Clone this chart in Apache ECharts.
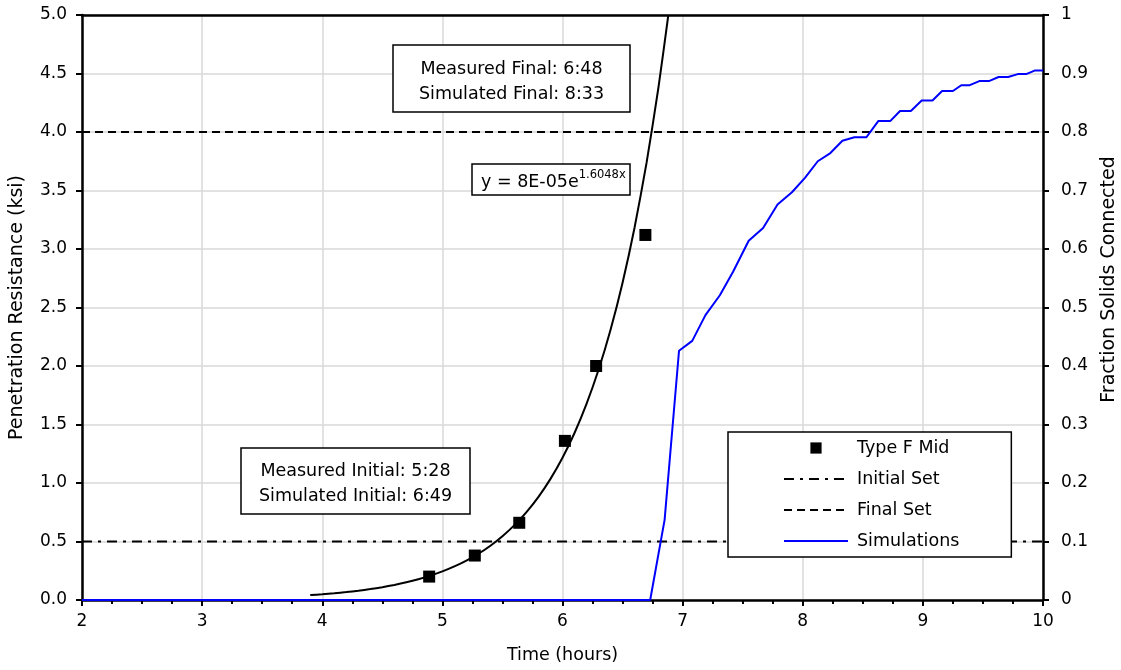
<!DOCTYPE html>
<html><head><meta charset="utf-8">
<script src="https://cdn.jsdelivr.net/npm/echarts@6/dist/echarts.min.js"></script>
<style>html,body{margin:0;padding:0;background:#fff}#c{width:1121px;height:670px}</style>
</head><body><div id="c"></div>
<script>
// ---- data ----
const typeFMidTime = [4.89, 5.27, 5.64, 6.02, 6.28, 6.69];
const typeFMidResistance = [0.20, 0.38, 0.66, 1.36, 2.00, 3.12];

const trendTime = [3.9, 4.0, 4.1, 4.2, 4.3, 4.4, 4.5, 4.6, 4.7, 4.8, 4.9, 5.0, 5.1, 5.2, 5.3, 5.4, 5.5, 5.6, 5.7, 5.8, 5.9, 6.0, 6.1, 6.2, 6.3, 6.4, 6.5, 6.6, 6.7, 6.8, 6.881];
const trendResistance = [0.0418, 0.0491, 0.0576, 0.0676, 0.0794, 0.0933, 0.1095, 0.1286, 0.1509, 0.1772, 0.2080, 0.2443, 0.2868, 0.3367, 0.3953, 0.4642, 0.5450, 0.6398, 0.7512, 0.8819, 1.0354, 1.2157, 1.4273, 1.6758, 1.9675, 2.3100, 2.7121, 3.1840, 3.7382, 4.3891, 5.0];

const simTime = [2, 6.73, 6.85, 6.97, 7.08, 7.19, 7.31, 7.42, 7.55, 7.67, 7.79, 7.91, 8.02, 8.125, 8.23, 8.33, 8.43, 8.53, 8.63, 8.73, 8.81, 8.90, 8.99, 9.08, 9.16, 9.25, 9.32, 9.39, 9.47, 9.55, 9.63, 9.71, 9.79, 9.86, 9.93, 10];
const simFraction = [0, 0, 0.137, 0.426, 0.443, 0.487, 0.521, 0.561, 0.614, 0.636, 0.676, 0.697, 0.722, 0.750, 0.764, 0.785, 0.791, 0.791, 0.819, 0.819, 0.836, 0.836, 0.854, 0.854, 0.870, 0.870, 0.880, 0.880, 0.887, 0.887, 0.894, 0.894, 0.899, 0.899, 0.905, 0.905];

const initialSetLevel = 0.5;
const finalSetLevel = 4.0;
const timeRange = [2, 10];
const legendNames = ['Type F Mid', 'Initial Set', 'Final Set', 'Simulations'];
const finalNote = ['Measured Final: 6:48', 'Simulated Final: 8:33'];
const initialNote = ['Measured Initial: 5:28', 'Simulated Initial: 6:49'];
const equationMain = 'y = 8E-05e';
const equationExp = '1.6048x';

// ---- chart ----
const FONT = 'DejaVu Sans';
const zip = (a, b) => a.map((v, i) => [v, b[i]]);
const chart = echarts.init(document.getElementById('c'), null, {renderer: 'canvas'});

const option = {
  animation: false,
  backgroundColor: '#fff',
  textStyle: {fontFamily: FONT, color: '#000'},
  grid: {left: 82, right: 78, top: 15, bottom: 70, containLabel: false, outerBoundsMode: 'none', show: false},
  xAxis: [{
    type: 'value', min: timeRange[0], max: timeRange[1], interval: 1, position: 'bottom',
    name: 'Time (hours)', nameLocation: 'middle', nameGap: 46,
    nameTextStyle: {fontFamily: FONT, fontSize: 17.5, color: '#000'},
    axisLine: {show: true, onZero: false, lineStyle: {color: '#000', width: 2.5}},
    axisTick: {show: true, inside: false, length: 6, lineStyle: {color: '#000', width: 2}},
    minorTick: {show: true, splitNumber: 4, length: 4, lineStyle: {color: '#000', width: 2}},
    axisLabel: {fontFamily: FONT, fontSize: 17, color: '#000', margin: 13},
    splitLine: {show: true, lineStyle: {color: '#d9d9d9', width: 1.5}}
  }, {
    type: 'value', min: timeRange[0], max: timeRange[1], interval: 1, position: 'top',
    axisLine: {show: true, onZero: false, lineStyle: {color: '#000', width: 2.5}},
    axisTick: {show: false}, axisLabel: {show: false}, splitLine: {show: false}
  }],
  yAxis: [{
    type: 'value', min: 0, max: 5, interval: 0.5, position: 'left',
    name: 'Penetration Resistance (ksi)', nameLocation: 'middle', nameGap: 55,
    nameTextStyle: {fontFamily: FONT, fontSize: 19, color: '#000'},
    axisLine: {show: true, onZero: false, lineStyle: {color: '#000', width: 2.5}},
    axisTick: {show: true, inside: false, length: 6, lineStyle: {color: '#000', width: 2}},
    axisLabel: {fontFamily: FONT, fontSize: 17, color: '#000', margin: 15, formatter: v => v.toFixed(1)},
    splitLine: {show: true, lineStyle: {color: '#d9d9d9', width: 1.5}}
  }, {
    type: 'value', min: 0, max: 1, interval: 0.1, position: 'right',
    name: 'Fraction Solids Connected', nameLocation: 'middle', nameGap: 57,
    nameTextStyle: {fontFamily: FONT, fontSize: 19, color: '#000', padding: [0, 0, 0, 56]},
    axisLine: {show: true, onZero: false, lineStyle: {color: '#000', width: 2.5}},
    axisTick: {show: true, inside: false, length: 6, lineStyle: {color: '#000', width: 2}},
    axisLabel: {fontFamily: FONT, fontSize: 17, color: '#000', margin: 18, formatter: v => String(Math.round(v * 10) / 10)},
    splitLine: {show: false}
  }],
  legend: {
    orient: 'vertical', left: 728, top: 432,
    padding: [7, 52, 7, 55], itemGap: 13, itemWidth: 64, itemHeight: 14,
    backgroundColor: '#fff', borderColor: '#000', borderWidth: 1.5, borderRadius: 0,
    textStyle: {fontFamily: FONT, fontSize: 17.5, color: '#000', lineHeight: 17, padding: [0, 0, 0, 4]},
    data: [
      {name: legendNames[0]},
      {name: legendNames[1], itemStyle: {opacity: 0}},
      {name: legendNames[2], itemStyle: {opacity: 0}},
      {name: legendNames[3], itemStyle: {opacity: 0}}
    ]
  },
  series: [
    {
      name: legendNames[1], type: 'line', yAxisIndex: 0, symbol: 'none',
      data: [[timeRange[0], initialSetLevel], [timeRange[1], initialSetLevel]],
      lineStyle: {color: '#000', width: 2, type: [10, 6, 3, 6]}, itemStyle: {color: '#000'}, z: 3
    },
    {
      name: legendNames[2], type: 'line', yAxisIndex: 0, symbol: 'none',
      data: [[timeRange[0], finalSetLevel], [timeRange[1], finalSetLevel]],
      lineStyle: {color: '#000', width: 2, type: [8, 5]}, itemStyle: {color: '#000'}, z: 3
    },
    {
      name: legendNames[3], type: 'line', yAxisIndex: 1, symbol: 'none',
      data: zip(simTime, simFraction),
      lineStyle: {color: '#0000ff', width: 2}, itemStyle: {color: '#0000ff'}, z: 4
    },
    {
      name: 'Trend', type: 'line', yAxisIndex: 0, symbol: 'none', smooth: 0.2,
      data: zip(trendTime, trendResistance),
      lineStyle: {color: '#000', width: 2}, itemStyle: {color: '#000'}, z: 5
    },
    {
      name: legendNames[0], type: 'line', yAxisIndex: 0, symbol: 'rect', symbolSize: 12,
      showSymbol: true, data: zip(typeFMidTime, typeFMidResistance),
      lineStyle: {width: 0, color: '#000'}, itemStyle: {color: '#000'}, z: 6
    }
  ],
  graphic: [
    {type: 'rect', z: 100, shape: {x: 393, y: 45, width: 237, height: 67}, style: {fill: '#fff', stroke: '#000', lineWidth: 1.5}},
    {type: 'text', z: 101, style: {x: 511.5, y: 81.5, text: finalNote.join('\n'), font: '17.5px "DejaVu Sans"', fill: '#000', align: 'center', verticalAlign: 'middle', lineHeight: 25}},
    {type: 'rect', z: 100, shape: {x: 241, y: 448, width: 229, height: 66}, style: {fill: '#fff', stroke: '#000', lineWidth: 1.5}},
    {type: 'text', z: 101, style: {x: 355.5, y: 483.5, text: initialNote.join('\n'), font: '17.5px "DejaVu Sans"', fill: '#000', align: 'center', verticalAlign: 'middle', lineHeight: 25}},
    {type: 'rect', z: 100, shape: {x: 472, y: 164, width: 158, height: 31}, style: {fill: '#fff', stroke: '#000', lineWidth: 1.5}},
    {type: 'text', z: 101, style: {x: 481, y: 180, text: '{a|' + equationMain + '}{b|' + equationExp + '}', align: 'left', verticalAlign: 'middle',
      rich: {a: {fontFamily: FONT, fontSize: 17.5, fill: '#000', color: '#000', lineHeight: 22, verticalAlign: 'bottom'},
             b: {fontFamily: FONT, fontSize: 11.5, fill: '#000', color: '#000', lineHeight: 22, verticalAlign: 'top'}}}}
  ]
};
chart.setOption(option);
</script></body></html>
